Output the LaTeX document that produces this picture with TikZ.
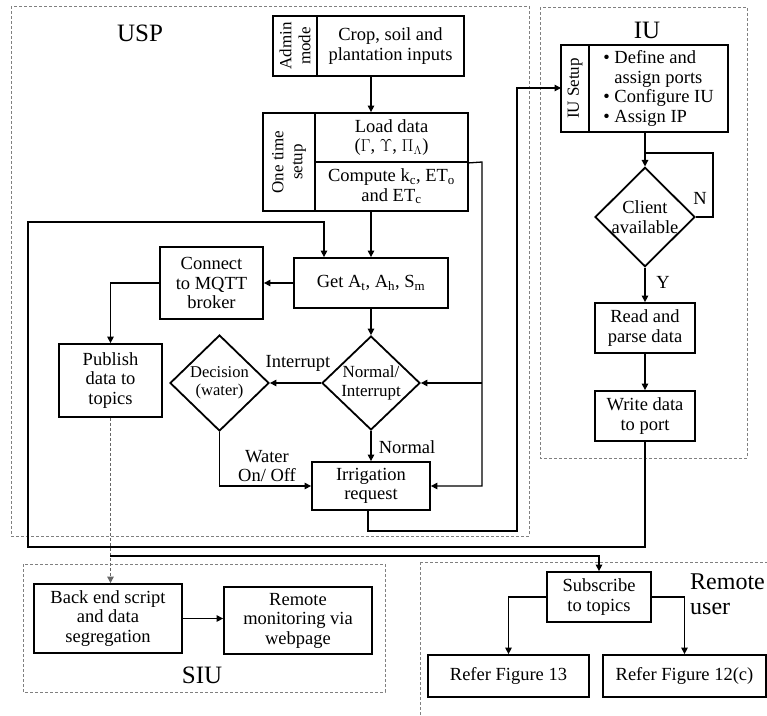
\documentclass[tikz,border=0pt]{standalone}
\usepackage{fontspec}
\setmainfont{Liberation Serif}
\usetikzlibrary{arrows.meta,shapes.geometric}
\newcommand{\myboxfs}{\fontsize{18.5}{19.5}\selectfont}
\newcommand{\mysidefs}{\fontsize{17}{19}\selectfont}
\newcommand{\mydiafs}{\fontsize{17}{19}\selectfont}
\newcommand{\mytitlefs}{\fontsize{25}{26}\selectfont}
\begin{document}
\begin{tikzpicture}[x=1pt,y=-1pt,
  box/.style={draw, line width=1.8pt, inner sep=1pt, align=center, font=\myboxfs},
  tag/.style={box, rotate=90, font=\mysidefs},
  dia/.style={draw, diamond, aspect=1, line width=1.8pt, inner sep=0pt, align=center, font=\mydiafs},
  conn/.style={line width=1.3pt},
  arr/.style={conn, -{Triangle[length=6.5pt,width=6.5pt]}},
  grp/.style={draw=black!50, line width=0.8pt, dash pattern=on 3pt off 2pt},
  lbl/.style={inner sep=0pt, font=\myboxfs},
  ttl/.style={inner sep=0pt, font=\mytitlefs}]
\useasboundingbox (0,0) rectangle (767,715);

% group frames
\draw[grp] (11,6) rectangle (529,536);
\draw[grp] (540,7) rectangle (747,458);
\draw[grp] (23,564) rectangle (385,692);
\draw[grp] (420,562) -- (420,720);
\draw[grp] (420,562) -- (780,562);

\node[ttl] (tusp) at (140,33) {USP};
\node[ttl] (tiu) at (647,30) {IU};
\node[ttl] (tsiu) at (202,675) {SIU};
\node[ttl, anchor=base west, font=\fontsize{24}{24}\selectfont] (trem1) at (690,589) {Remote};
\node[ttl, anchor=base west, font=\fontsize{24}{24}\selectfont] (trem2) at (690,614) {user};

% USP
\node[tag, minimum width=60pt, minimum height=44pt] (admintag) at (295,46) {Admin\\mode};
\node[box, minimum width=147pt, minimum height=60pt] (admin) at (390.5,46) {Crop, soil and\\plantation inputs};

\node[tag, minimum width=98pt, minimum height=52pt] (setuptag) at (289,162) {One time\\setup};
\node[box, minimum width=153pt, minimum height=49pt] (load) at (391.5,137.5) {Load data\\(\(\Gamma\), \(\Upsilon\), \(\Pi_{\Lambda}\))};
\node[box, minimum width=153pt, minimum height=49pt] (comp) at (391.5,186.5) {Compute k\textsubscript{c}, ET\textsubscript{o}\\and ET\textsubscript{c}};

\node[box, minimum width=154pt, minimum height=50pt] (get) at (371,283) {Get A\textsubscript{t}, A\textsubscript{h}, S\textsubscript{m}};
\node[box, minimum width=103pt, minimum height=72pt] (conn) at (211.5,283) {Connect\\to MQTT\\broker};
\node[box, minimum width=103pt, minimum height=73pt] (pub) at (110.5,380.5) {Publish\\data to\\topics};
\node[dia, minimum width=98pt, minimum height=93pt] (ni) at (371,383) {Normal/\\Interrupt};
\node[dia, minimum width=99pt, minimum height=96pt, font=\fontsize{16.5}{18.5}\selectfont] (dec) at (219.5,383) {Decision\\(water)};
\node[box, minimum width=118pt, minimum height=48pt] (irr) at (371,486) {Irrigation\\request};

% IU
\node[tag, minimum width=87pt, minimum height=28pt] (iutag) at (575,88.5) {IU Setup};
\node[box, minimum width=139pt, minimum height=87pt, align=left] (iu) at (658.5,88.5)
  {\textbullet\ Define and\\\hphantom{\textbullet\ }assign ports\\\textbullet\ Configure IU\\\textbullet\ Assign IP};
\node[dia, minimum width=100pt, minimum height=96pt, font=\myboxfs] (cli) at (645,217) {Client\\available};
\node[box, minimum width=100pt, minimum height=50pt] (read) at (645,328) {Read and\\parse data};
\node[box, minimum width=100pt, minimum height=50pt] (write) at (645,416) {Write data\\to port};

% SIU
\node[box, minimum width=148pt, minimum height=69pt] (back) at (108,618.5) {Back end script\\and data\\segregation};
\node[box, minimum width=148pt, minimum height=67pt] (mon) at (298,620.5) {Remote\\monitoring via\\webpage};

% Remote user
\node[box, minimum width=104pt, minimum height=50pt] (sub) at (599,597) {Subscribe\\to topics};
\node[box, minimum width=161pt, minimum height=42pt] (r13) at (508.5,676) {Refer Figure 13};
\node[box, minimum width=163pt, minimum height=42pt] (r12) at (684.5,676) {Refer Figure 12(c)};

% coordinates
\coordinate (rt) at (482,162);
\coordinate (lpA) at (28,547);
\coordinate (lpB) at (28,222);
\coordinate (lpC) at (324,222);
\coordinate (rtA) at (517,531);
\coordinate (iuin) at (561,88);
\coordinate (nloop) at (713,153);
\coordinate (pubB) at (110,556);

% connectors
\draw[arr] (admin.south -| get.north) -- (load.north -| get.north);
\draw[arr] (comp.south -| get.north) -- (get.north);
\draw[arr] (write.south) |- (lpA) -- (lpB) -- (lpC) -- (lpC |- get.north);
\draw[arr] (get.west) -- (conn.east);
\draw[arr] (conn.west) -| (pub.north);
\draw[arr] (get.south) -- (ni.north);
\draw[arr] (ni.west) -- (dec.east);
\draw[arr] (ni.south) -- (irr.north);
\draw[arr] (dec.south) |- (irr.west);
\draw[arr] (load.south east) -- (rt) |- (irr.east);
\draw[arr] (rt |- ni.east) -- (ni.east);
\draw[arr] (irr.south -| 368,0) |- (rtA) |- (iuin);
\draw[arr] (cli.north |- iu.south) -- (cli.north);
\draw[conn] (cli.east) -| (nloop) -- (nloop -| cli.north);
\draw[arr] (cli.south) -- (read.north);
\draw[arr] (read.south) -- (write.north);
\draw[arr, dash pattern=on 3pt off 2pt, line width=0.8pt, draw=black!60] (pub.south) -- (pub.south |- back.north);
\draw[arr] (pubB) -| (sub.north);
\draw[arr] (back.east) -- (back.east -| mon.west);
\draw[arr] (sub.west) -| (r13.north);
\draw[arr] (sub.east) -| (r12.north);

% connector labels
\node[lbl] (lint) at (298,363) {Interrupt};
\node[lbl] (lnor) at (407,447) {Normal};
\node[lbl, align=center] (lwat) at (267,466) {Water\\On/ Off};
\node[lbl] (ln) at (700,198) {N};
\node[lbl] (ly) at (663,282) {Y};
\end{tikzpicture}
\end{document}
